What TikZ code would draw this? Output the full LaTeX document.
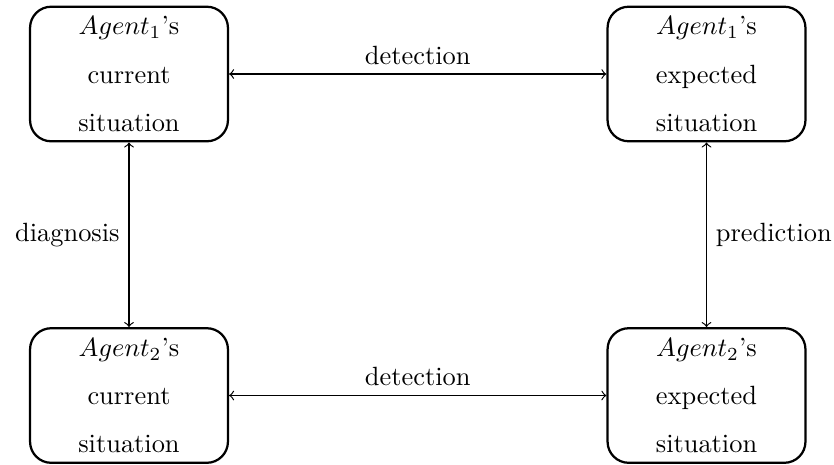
\documentclass[tikz,border=0pt]{standalone}
\begin{document}
\begin{tikzpicture}[x=0.379pt,y=-0.379pt,
  sitbox/.style={draw,line width=0.85pt,rounded corners=8pt,minimum width=75pt,minimum height=51pt,inner sep=0pt,align=center,
    execute at begin node={\setlength{\baselineskip}{18.3pt}}},
  conn/.style={<->,line width=0.45pt}]
\useasboundingbox (0,0) rectangle (834,464);
\node[sitbox] (a1c) at (129,74) {$Agent_1$'s\\current\\situation};
\node[sitbox] (a1e) at (706.5,74) {$Agent_1$'s\\expected\\situation};
\node[sitbox] (a2c) at (129,395.5) {$Agent_2$'s\\current\\situation};
\node[sitbox] (a2e) at (706.5,395.5) {$Agent_2$'s\\expected\\situation};
\draw[conn] (a1c.east) -- node[above] {detection} (a1e.west);
\draw[conn] (a2c.east) -- node[above] {detection} (a2e.west);
\draw[conn] (a1c.south) -- node[left] {diagnosis} (a2c.north);
\draw[conn] (a1e.south) -- node[right] {prediction} (a2e.north);
\end{tikzpicture}
\end{document}
